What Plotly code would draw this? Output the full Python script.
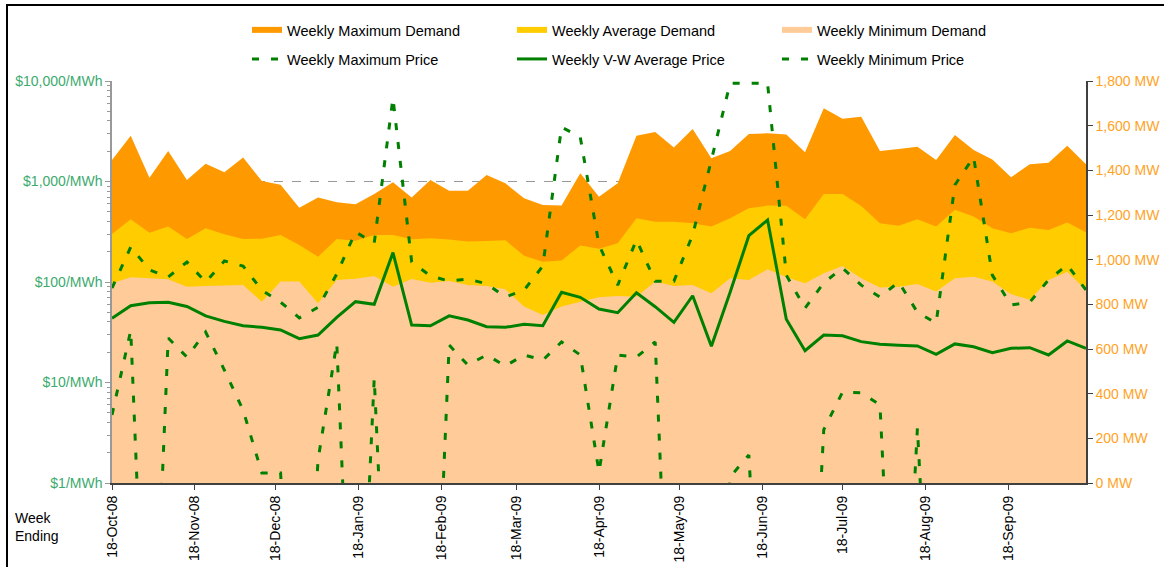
import pandas as pd
import plotly.graph_objects as go

# weekly values, week ending Saturday 18-Oct-08 .. 17-Oct-09
max_demand = [1446, 1555, 1367, 1487, 1357, 1429, 1391, 1457, 1352, 1335,
              1233, 1278, 1257, 1248, 1294, 1347, 1278, 1357, 1309, 1309,
              1379, 1342, 1275, 1245, 1242, 1387, 1282, 1342, 1555, 1572,
              1502, 1585, 1454, 1487, 1563, 1566, 1561, 1481, 1678, 1631,
              1640, 1487, 1496, 1506, 1446, 1558, 1491, 1449, 1369, 1427,
              1434, 1510, 1427]
avg_demand = [1115, 1181, 1121, 1148, 1093, 1141, 1114, 1093, 1094, 1111,
              1066, 1013, 1093, 1085, 1111, 1111, 1091, 1096, 1090, 1081,
              1084, 1087, 1017, 991, 996, 1063, 1049, 1073, 1185, 1170,
              1170, 1163, 1148, 1185, 1230, 1242, 1241, 1181, 1294, 1294,
              1240, 1163, 1152, 1181, 1148, 1223, 1193, 1141, 1118, 1143,
              1133, 1166, 1123]
min_demand = [894, 921, 917, 912, 879, 882, 884, 887, 812, 902,
              902, 805, 909, 915, 927, 879, 913, 897, 904, 887,
              882, 867, 790, 752, 790, 812, 832, 837, 834, 902,
              882, 887, 850, 917, 909, 957, 922, 894, 939, 972,
              917, 875, 879, 891, 857, 917, 924, 902, 845, 820,
              909, 946, 864]
max_price = [87, 223, 132, 112, 158, 100, 162, 144, 83, 63,
             44, 56, 120, 315, 244, 6770, 158, 115, 102, 107,
             96, 71, 83, 144, 3480, 2770, 233, 93, 262, 102,
             102, 294, 1636, 9500, 9500, 9500, 117, 55, 98, 138,
             93, 71, 100, 50, 39, 923, 1753, 117, 59, 63,
             105, 148, 83]
vw_price = [43.5, 58, 62, 63, 57, 46, 40.6, 36.7, 35.4, 33.3,
            27.3, 29.7, 44.5, 63.7, 60, 196, 37.3, 36.7, 46, 41.9,
            35.9, 35.4, 37.9, 36.7, 79, 70.4, 53.9, 49.5, 78, 56.8,
            39.7, 73, 23, 79, 289, 414, 42.6, 20.7, 29.7, 29.2,
            25.5, 24, 23.5, 23.1, 19.1, 24.2, 22.7, 19.8, 21.9, 22.2,
            18.8, 25.9, 21.9]
# weeks with prices at or below zero shown as a tiny positive value (off the log scale)
min_price = [4.75, 33, 0.001, 27.7, 17.9, 31.8, 13.3, 5.3, 1.26, 1.26,
             0.001, 1.7, 24.7, 0.001, 11, 0.001, 0.001, 0.001, 23.6, 14.9,
             18.8, 14.6, 18.8, 16.7, 25.3, 18.8, 1.29, 18.8, 17.9, 25.3,
             0.001, 0.001, 0.001, 1.15, 1.9, 0.001, 0.001, 0.001, 3.4, 8.0,
             7.9, 6.0, 0.001, 3.5, 0.001, 0.001, 0.001, 0.001, 0.001, 0.001,
             0.001, 0.001, 0.001]

weeks = pd.date_range("2008-10-18", periods=len(max_demand), freq="7D")

FONT = "Liberation Sans, Arial, sans-serif"
GREEN = "#008000"

fig = go.Figure()

for name, vals, col in [("Weekly Maximum Demand", max_demand, "#FF9900"),
                        ("Weekly Average Demand", avg_demand, "#FFCC00"),
                        ("Weekly Minimum Demand", min_demand, "#FFCC99")]:
    fig.add_trace(go.Scatter(x=weeks, y=vals, name=name, mode="none",
                             fill="tozeroy", fillcolor=col, yaxis="y",
                             legend="legend"))

for name, vals, dash in [("Weekly Maximum Price", max_price, "7px,12px"),
                         ("Weekly V-W Average Price", vw_price, "solid"),
                         ("Weekly Minimum Price", min_price, "7px,12px")]:
    fig.add_trace(go.Scatter(x=weeks, y=vals, name=name, mode="lines",
                             line=dict(color=GREEN, width=3, dash=dash),
                             yaxis="y2", legend="legend2"))

fig.update_layout(
    width=1164, height=567,
    margin=dict(l=112, r=78, t=81, b=84),
    paper_bgcolor="white", plot_bgcolor="white",
    font=dict(family=FONT, size=14, color="black"),
    xaxis=dict(type="date", range=["2008-10-18", "2009-10-17"],
               tick0="2008-10-18", dtick="M1", tickformat="%d-%b-%y",
               tickangle=-90, ticks="outside", ticklen=5, tickcolor="#404040",
               showline=True, linecolor="#404040", linewidth=2,
               showgrid=False, zeroline=False, automargin=False,
               tickfont=dict(size=14, color="black")),
    yaxis=dict(side="right", range=[0, 1800], dtick=200, tickformat=",d",
               ticksuffix=" MW", tickfont=dict(size=14, color="#FFA31F"),
               showline=True, linecolor="#404040", linewidth=1.5,
               ticks="outside", ticklen=5, tickcolor="#404040",
               showgrid=False, zeroline=False, automargin=False),
    yaxis2=dict(overlaying="y", side="left", type="log", range=[0, 4],
                tickmode="linear", tick0=0, dtick=1, tickformat=",d",
                tickprefix="$", ticksuffix="/MWh",
                tickfont=dict(size=14, color="#3DAA6E"),
                showline=True, linecolor="#999999", linewidth=1.5,
                ticks="outside", ticklen=5, tickcolor="#999999",
                minor=dict(ticks="outside", ticklen=3, tickcolor="#999999",
                           dtick="D1", showgrid=False),
                showgrid=True, gridcolor="#999999", griddash="dash",
                gridwidth=1, zeroline=False, automargin=False),
    legend=dict(orientation="h", x=0.1386, y=1.127, xanchor="left",
                yanchor="middle", entrywidth=220, font=dict(size=14.5),
                bgcolor="rgba(0,0,0,0)"),
    legend2=dict(orientation="h", x=0.1386, y=1.0547, xanchor="left",
                 yanchor="middle", entrywidth=220, font=dict(size=14.5),
                 bgcolor="rgba(0,0,0,0)"),
    showlegend=True,
    annotations=[dict(text="Week<br>Ending", xref="paper", yref="paper",
                      x=-0.102, y=-0.11, xanchor="left", yanchor="middle",
                      align="left", showarrow=False,
                      font=dict(size=14, color="black"))],
    shapes=[dict(type="rect", xref="paper", yref="paper",
                 x0=-0.1078, y0=-0.3, x1=1.2, y1=1.189,
                 line=dict(color="black", width=2), layer="above")],
)

# page body margin would push the figure 8px off; drop it
fig.write_html("out.html", config={"displayModeBar": False},
               post_script="document.body.style.margin='0';")
